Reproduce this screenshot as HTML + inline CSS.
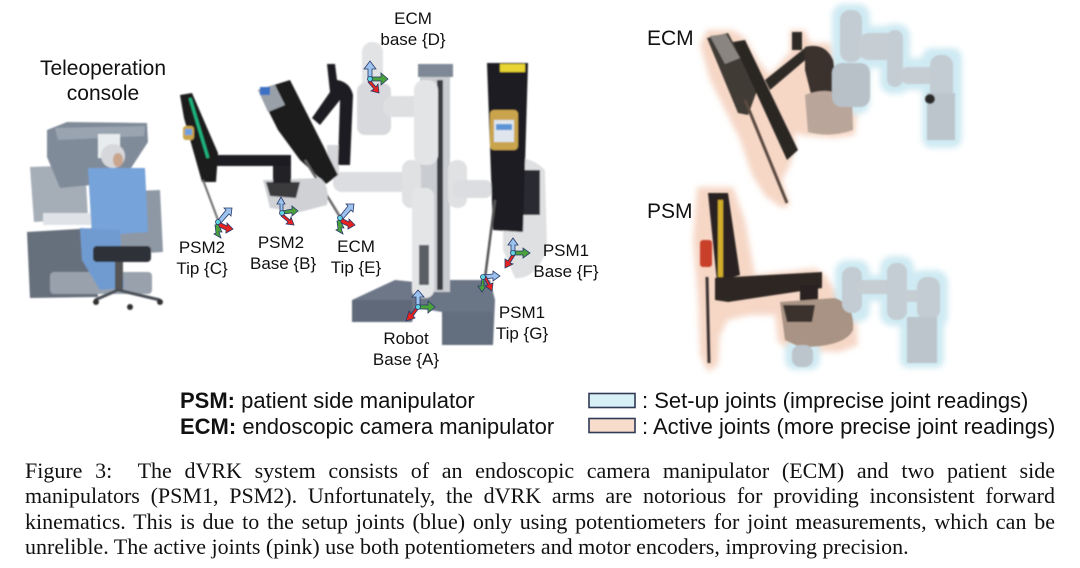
<!DOCTYPE html>
<html><head><meta charset="utf-8">
<style>
html,body{margin:0;padding:0;background:#fff;}
body{width:1080px;height:568px;position:relative;overflow:hidden;font-family:"Liberation Sans",sans-serif;color:#111;}
.t{position:absolute;white-space:nowrap;line-height:1;}
.lbl{font-size:17px;text-align:center;line-height:21px;}
.cap{position:absolute;left:25px;width:1030px;font-family:"Liberation Serif",serif;font-size:22px;line-height:24px;text-align:justify;text-align-last:justify;white-space:nowrap;color:#111;}
.cap.last{text-align-last:left;}
svg{position:absolute;left:0;top:0;}
</style></head><body>
<svg width="1080" height="568" viewBox="0 0 1080 568">
<defs>
<filter id="bl" x="-20%" y="-20%" width="140%" height="140%"><feGaussianBlur stdDeviation="3"/></filter>
<filter id="bl1"><feGaussianBlur stdDeviation="0.8"/></filter>
</defs>

<!-- ============ CONSOLE ============ -->
<g filter="url(#bl1)">
<polygon points="27,232 95,228 98,297 30,298" fill="#666f7c"/>
<polygon points="30,167 85,165 88,218 34,222" fill="#a5adb7"/>
<polygon points="47,130 67,122 147,123 148,142 122,182 60,188 47,157" fill="#808b9a"/>
<polygon points="55,128 145,126 144,136 58,140" fill="#9aa4b1"/>
<rect x="98" y="134" width="22" height="24" fill="#e8ecef"/>
<rect x="50" y="272" width="102" height="22" rx="4" fill="#98a1ac"/>
<rect x="43" y="213" width="66" height="12" fill="#dfe3e7"/>
<polygon points="110,192 160,190 163,252 114,255" fill="#8e98a4"/>
<polygon points="88,168 145,168 148,232 92,236" fill="#76a3d9"/>
<polygon points="80,228 120,230 124,288 100,290 82,260" fill="#6f9bd1"/>
<rect x="93" y="246" width="58" height="16" rx="4" fill="#2e3238"/>
<circle cx="113" cy="156" r="12" fill="#d5d7da"/>
<ellipse cx="118" cy="160" rx="5" ry="7" fill="#c9a58e"/>
<rect x="115" y="262" width="8" height="28" fill="#555"/>
<polyline points="95,300 118,290 160,300" fill="none" stroke="#4a4f56" stroke-width="3"/>
<circle cx="96" cy="302" r="3" fill="#333"/><circle cx="160" cy="302" r="3" fill="#333"/><circle cx="130" cy="307" r="3" fill="#333"/>
</g>

<!-- ============ CENTER ROBOT ============ -->
<g filter="url(#bl1)">
<!-- base -->
<polygon points="352,300 395,280 415,282 420,292 412,322 352,322" fill="#6d7787"/>
<polygon points="415,280 490,280 495,300 493,345 442,345 442,312 418,308" fill="#6a7485"/>
<polygon points="352,300 412,300 412,322 352,322" fill="#5f6979"/>
<polygon points="442,312 493,312 493,345 442,345" fill="#646e7e"/>
<!-- column -->
<rect x="418" y="64" width="35" height="13" fill="#7e8896"/>
<rect x="420" y="77" width="30" height="215" fill="#c9ccd0"/>
<rect x="437" y="80" width="6" height="210" fill="#3a3d42"/>
<!-- white arms -->
<rect x="362" y="42" width="21" height="55" rx="10" fill="#e2e3e5"/>
<rect x="357" y="83" width="34" height="52" rx="8" fill="#d8d9dc"/>
<rect x="383" y="96" width="42" height="21" rx="10" fill="#dedfe1"/>
<rect x="414" y="80" width="24" height="85" rx="10" fill="#e3e4e6"/>
<rect x="333" y="172" width="80" height="20" rx="9" fill="#dcdde0"/>
<rect x="327" y="145" width="12" height="30" fill="#d5d6d9"/>
<rect x="402" y="160" width="19" height="48" rx="9" fill="#e0e1e3"/>
<rect x="448" y="160" width="19" height="48" rx="9" fill="#e0e1e3"/>
<rect x="453" y="180" width="40" height="18" rx="8" fill="#dcdde0"/>
<rect x="412" y="188" width="22" height="110" rx="8" fill="#e4e5e7"/>
<rect x="419" y="245" width="10" height="40" fill="#5a5e66"/>
<path d="M503,165 Q525,150 545,170 L547,250 Q535,280 515,278 L503,250 Z" fill="#dfe0e2"/>
<rect x="510" y="170" width="30" height="45" fill="#2a2c30"/>
<!-- PSM1 column -->
<polygon points="487,63 528,63 523,232 493,230" fill="#1c1d20"/>
<rect x="500" y="64" width="25" height="8" fill="#e8d431"/>
<rect x="490" y="110" width="28" height="40" rx="4" fill="#c9a44e"/>
<rect x="494" y="120" width="20" height="22" fill="#dfe6ee"/>
<rect x="496" y="124" width="16" height="6" fill="#5a94d6"/>
<line x1="495" y1="200" x2="485" y2="278" stroke="#555" stroke-width="2.5"/>
<!-- ECM black link -->
<path d="M327,64 L335,64 L337,80 Q350,82 353,95 L350,165 L338,165 L340,100 L320,125 L312,118 L330,92 Z" fill="#1e1f22"/>
<!-- ECM holder column -->
<polygon points="258,90 290,80 338,175 326,184 300,160 278,130" fill="#1b1c1f"/>
<polygon points="258,90 275,85 285,105 268,112" fill="#9aa0a8"/>
<rect x="260" y="87" width="10" height="8" fill="#3b6fc4"/>
<line x1="305" y1="160" x2="342" y2="220" stroke="#666" stroke-width="2.5"/>
<!-- PSM2 gray box -->
<path d="M263,180 L320,178 Q330,185 327,205 L300,212 L270,208 Z" fill="#cfd1d4"/>
<path d="M266,182 L300,182 L296,198 L270,196 Z" fill="#3a3b3e"/>
<rect x="273" y="155" width="18" height="28" fill="#232427"/>
<!-- PSM2 arm -->
<rect x="200" y="155" width="90" height="11" fill="#1d1e21"/>
<polygon points="180,95 192,93 218,153 216,182 202,182 184,118" fill="#1a1b1e"/>
<line x1="190" y1="98" x2="208" y2="158" stroke="#1fb57f" stroke-width="3"/>
<rect x="183" y="126" width="11" height="14" rx="3" fill="#c9a44e"/>
<rect x="185" y="129" width="7" height="6" fill="#6aa0e0"/>
<line x1="203" y1="180" x2="218" y2="220" stroke="#6b6b6b" stroke-width="2"/>
</g>

<!-- coordinate frames -->
<g stroke="#2a3a6a" stroke-width="0.8">
<g transform="translate(218,222)">
 <polygon points="0,-2 8,-12 6,-14 14,-14 13,-6 11,-8 2,2" fill="#9cc3ef"/>
 <polygon points="1,0 9,4 9,1 15,7 8,11 8,8 -1,4" fill="#e8231f"/>
 <polygon points="0,2 4,10 1,10 3,16 -4,12 -2,11 -3,3" fill="#4aa23c"/>
 <circle r="2.5" fill="#5fd3e0"/>
</g>
<g transform="translate(282,213)">
 <polygon points="-2,0 -2,-9 -5,-9 -1,-16 3,-9 1,-9 1,0" fill="#9cc3ef"/>
 <polygon points="0,-2 10,-4 10,-7 16,-2 10,3 10,0 0,1" fill="#4aa23c"/>
 <polygon points="1,1 8,7 9,4 12,12 4,11 6,9 -1,3" fill="#e8231f"/>
 <circle r="2.5" fill="#5fd3e0"/>
</g>
<g transform="translate(340,218)">
 <polygon points="0,-2 8,-12 6,-14 14,-14 13,-6 11,-8 2,2" fill="#9cc3ef"/>
 <polygon points="1,0 9,4 9,1 15,7 8,11 8,8 -1,4" fill="#e8231f"/>
 <polygon points="0,2 4,10 1,10 3,16 -4,12 -2,11 -3,3" fill="#4aa23c"/>
 <circle r="2.5" fill="#5fd3e0"/>
</g>
<g transform="translate(370,79)">
 <polygon points="-2,0 -2,-10 -6,-10 0,-18 6,-10 2,-10 2,0" fill="#9cc3ef"/>
 <polygon points="0,-2 11,-2 11,-6 18,0 11,6 11,2 0,2" fill="#4aa23c"/>
 <polygon points="0,1 6,8 8,5 9,14 1,12 4,10 -2,3" fill="#e8231f"/>
 <circle r="2.5" fill="#5fd3e0"/>
</g>
<g transform="translate(513,253)">
 <polygon points="-2,0 -2,-8 -5,-8 0,-15 5,-8 2,-8 2,0" fill="#9cc3ef"/>
 <polygon points="0,-2 10,-2 10,-5 17,0 10,5 10,2 0,2" fill="#4aa23c"/>
 <polygon points="-1,1 -5,8 -8,6 -8,15 0,11 -3,10 2,2" fill="#e8231f"/>
 <circle r="2.5" fill="#5fd3e0"/>
</g>
<g transform="translate(483,277)">
 <polygon points="0,-2 10,-3 10,-6 17,-1 10,4 10,1 0,2" fill="#9cc3ef"/>
 <polygon points="1,1 5,8 2,9 9,14 10,6 7,7 3,-1" fill="#e8231f"/>
 <polygon points="-1,1 -2,9 -5,9 -1,15 3,9 1,9 1,1" fill="#4aa23c"/>
 <circle r="2.5" fill="#5fd3e0"/>
</g>
<g transform="translate(418,307)">
 <polygon points="-2,0 -2,-10 -6,-10 0,-17 6,-10 2,-10 2,0" fill="#9cc3ef"/>
 <polygon points="0,-2 10,-2 10,-6 17,0 10,6 10,2 0,2" fill="#4aa23c"/>
 <polygon points="-1,-1 -7,7 -9,4 -12,14 -3,11 -5,9 1,1" fill="#e8231f"/>
 <circle r="2.5" fill="#5fd3e0"/>
</g>
</g>

<!-- ============ RIGHT: ECM ============ -->
<polygon points="707,30 733,30 745,38 758,60 770,75 790,52 790,30 805,30 810,43 830,43 842,70 850,90 858,100 855,135 835,138 805,136 795,133 795,150 790,165 782,180 790,205 782,208 765,196 752,175 740,140 725,110 710,80 700,45" fill="#f6d7c6" filter="url(#bl)"/>
<g fill="#cfeaf3" filter="url(#bl)">
<rect x="832" y="4" width="38" height="110" rx="12"/>
<rect x="850" y="26" width="60" height="42" rx="12"/>
<rect x="880" y="24" width="30" height="70" rx="12"/>
<rect x="893" y="58" width="58" height="32" rx="10"/>
<rect x="922" y="48" width="40" height="100" rx="10"/>
</g>
<g filter="url(#bl1)">
<polygon points="707,38 728,33 758,88 748,115 738,113" fill="#403a36"/>
<polygon points="710,36 726,34 740,58 725,64" fill="#8a8580"/>
<polygon points="733,42 745,40 798,150 787,160" fill="#2a2522"/>
<line x1="745" y1="100" x2="787" y2="203" stroke="#5a4a40" stroke-width="3"/>
<polygon points="765,80 805,48 810,56 770,90" fill="#2e2926"/>
<rect x="792" y="32" width="10" height="18" fill="#2e2926"/>
<path d="M805,47 Q825,42 833,60 L840,105 L815,110 L805,70 Z" fill="#3a332e"/>
<path d="M805,95 Q830,85 852,100 L853,130 Q830,138 808,132 Z" fill="#b9a59a"/>
<rect x="840" y="10" width="22" height="52" rx="10" fill="#c3ccd2"/>
<rect x="832" y="63" width="38" height="44" rx="10" fill="#b8c1c8"/>
<rect x="857" y="33" width="46" height="27" rx="12" fill="#c6ced4"/>
<rect x="887" y="30" width="16" height="57" rx="8" fill="#c4cdd3"/>
<rect x="900" y="67" width="43" height="17" rx="8" fill="#c6ced4"/>
<rect x="930" y="55" width="23" height="45" rx="10" fill="#c3ccd2"/>
<rect x="927" y="93" width="28" height="47" fill="#bcc5cc"/>
<circle cx="930" cy="99" r="5" fill="#2a2a2a"/>
</g>

<!-- ============ RIGHT: PSM ============ -->
<polygon points="697,187 733,187 745,220 755,275 815,268 825,275 835,290 855,300 858,345 840,352 790,350 778,342 775,315 750,315 728,320 720,335 718,365 708,372 700,355 698,300 693,240" fill="#f6d7c6" filter="url(#bl)"/>
<g fill="#cfeaf3" filter="url(#bl)">
<rect x="835" y="260" width="35" height="62" rx="12"/>
<rect x="852" y="275" width="50" height="26" rx="10"/>
<rect x="880" y="256" width="34" height="70" rx="12"/>
<rect x="898" y="285" width="30" height="22" rx="8"/>
<rect x="910" y="270" width="38" height="58" rx="12"/>
<rect x="900" y="312" width="44" height="56" rx="8"/>
<rect x="785" y="340" width="35" height="30" rx="10"/>
</g>
<g filter="url(#bl1)">
<polygon points="708,193 728,193 740,275 717,282" fill="#2a2420"/>
<rect x="718" y="200" width="5" height="77" fill="#d1ad2b"/>
<rect x="700" y="240" width="12" height="27" rx="3" fill="#c8412c"/>
<line x1="707" y1="277" x2="709" y2="363" stroke="#3a3230" stroke-width="3"/>
<polygon points="715,278 822,272 822,288 728,302 715,300" fill="#2e2723"/>
<rect x="800" y="285" width="18" height="35" fill="#2a2420"/>
<path d="M780,302 L835,298 Q855,305 853,330 Q845,347 800,347 L785,340 Z" fill="#a99384"/>
<path d="M783,305 L815,305 L812,322 L787,322 Z" fill="#3a322d"/>
<rect x="842" y="267" width="20" height="46" rx="9" fill="#c3ccd2"/>
<rect x="857" y="280" width="40" height="14" rx="6" fill="#c6ced4"/>
<rect x="887" y="263" width="20" height="57" rx="9" fill="#c4cdd3"/>
<rect x="905" y="290" width="18" height="12" fill="#c6ced4"/>
<rect x="917" y="277" width="23" height="43" rx="10" fill="#c3ccd2"/>
<rect x="907" y="317" width="30" height="46" fill="#bcc5cc"/>
<rect x="792" y="345" width="21" height="22" rx="8" fill="#bcc5cc"/>
</g>

<!-- legend boxes -->
<rect x="589" y="393.5" width="46" height="14" fill="#d8f1f7" stroke="#2f3a55" stroke-width="1.6"/>
<rect x="589" y="418.5" width="46" height="14" fill="#f7dccb" stroke="#2f3a55" stroke-width="1.6"/>
</svg>

<!-- labels -->
<div class="t" style="left:22px;top:56px;width:162px;text-align:center;font-size:21px;line-height:25px;">Teleoperation<br>console</div>
<div class="t lbl" style="left:172px;top:237px;width:60px;">PSM2<br>Tip {C}</div>
<div class="t lbl" style="left:250px;top:232px;width:62px;">PSM2<br>Base {B}</div>
<div class="t lbl" style="left:326px;top:236px;width:60px;">ECM<br>Tip {E}</div>
<div class="t lbl" style="left:378px;top:8px;width:70px;">ECM<br>base {D}</div>
<div class="t lbl" style="left:528px;top:240px;width:76px;">PSM1<br>Base {F}</div>
<div class="t lbl" style="left:490px;top:302px;width:64px;">PSM1<br>Tip {G}</div>
<div class="t lbl" style="left:372px;top:328px;width:68px;">Robot<br>Base {A}</div>
<div class="t" style="left:647px;top:28px;font-size:21px;">ECM</div>
<div class="t" style="left:647px;top:201px;font-size:21px;">PSM</div>

<!-- legend text -->
<div class="t" style="left:180px;top:390px;font-size:22px;"><b>PSM:</b> patient side manipulator</div>
<div class="t" style="left:180px;top:416px;font-size:22px;"><b>ECM:</b> endoscopic camera manipulator</div>
<div class="t" style="left:642px;top:390px;font-size:22px;">: Set-up joints (imprecise joint readings)</div>
<div class="t" style="left:642px;top:416px;font-size:22px;">: Active joints (more precise joint readings)</div>

<!-- caption -->
<div class="cap" style="top:459px;">Figure 3: &nbsp;The dVRK system consists of an endoscopic camera manipulator (ECM) and two patient side</div>
<div class="cap" style="top:484px;">manipulators (PSM1, PSM2). Unfortunately, the dVRK arms are notorious for providing inconsistent forward</div>
<div class="cap" style="top:510px;">kinematics. This is due to the setup joints (blue) only using potentiometers for joint measurements, which can be</div>
<div class="cap last" style="top:535px;">unrelible. The active joints (pink) use both potentiometers and motor encoders, improving precision.</div>
</body></html>
